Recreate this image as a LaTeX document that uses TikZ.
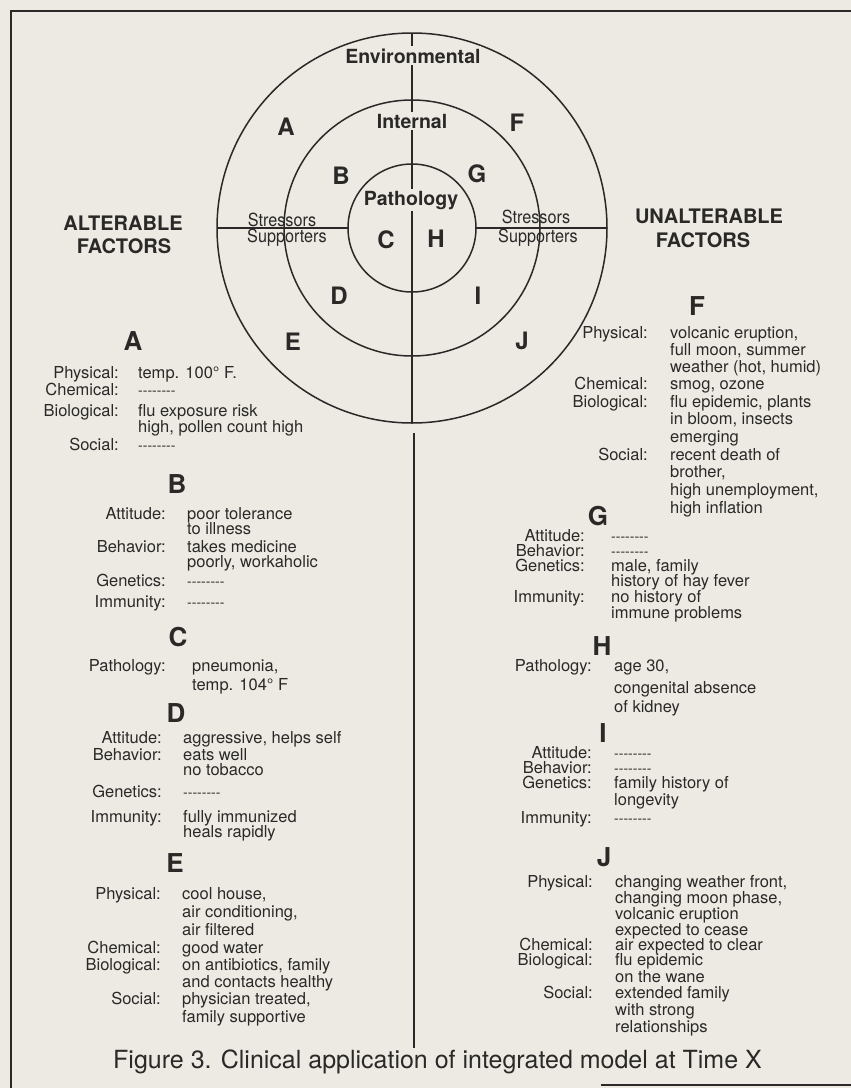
\documentclass[tikz,border=0pt]{standalone}
\usepackage{fontspec}
\setmainfont{TeX Gyre Heros}
\definecolor{paper}{HTML}{EDEAE4}
\definecolor{ink}{HTML}{2A2927}
\newcommand\body{\fontsize{16.5}{17.5}\selectfont}
\newcommand\nodata{{\fontsize{14}{14}\selectfont\hbox{-}\hbox{-}\hbox{-}\hbox{-}\hbox{-}\hbox{-}\hbox{-}\hbox{-}}}
\tikzset{
  factlab/.style={anchor=base east,inner sep=0pt,font=\body,text=ink},
  factval/.style={anchor=base west,inner sep=0pt,font=\body,text=ink},
  ringletter/.style={inner sep=0pt,font=\fontsize{24}{24}\selectfont\bfseries,text=ink},
  blockletter/.style={inner sep=0pt,font=\fontsize{26}{26}\selectfont\bfseries,text=ink},
  ringname/.style={anchor=base,inner xsep=0pt,inner ysep=2pt,fill=paper,font=\fontsize{19.5}{19.5}\selectfont\bfseries,text=ink},
  sidename/.style={anchor=base,inner sep=0pt,font=\fontsize{18}{18}\selectfont,xscale=0.9,transform shape,text=ink},
  groupname/.style={anchor=base,inner sep=0pt,font=\fontsize{20}{20}\selectfont\bfseries,text=ink},
}
% one row per line: y / label / value
\newcommand\factlist[4]{%
  \foreach \yy/\ll/\vv [count=\n] in {#4}{
    \node[factlab] (#1l\n) at (#2,\yy) {\ll};
    \node[factval] (#1v\n) at (#3,\yy) {\vv};
  }}
\begin{document}
\begin{tikzpicture}[x=1pt,y=-1pt]
  \fill[paper] (0,0) rectangle (851,1088);
  \useasboundingbox (0,0) rectangle (851,1088);
  % frame
  \draw[ink,line width=2.4pt] (11,1088) -- (11,11) -- (851,11);
  \draw[ink,line width=2pt] (601,1085) -- (851,1085);
  % circles
  \coordinate (O) at (412,228);
  \draw[ink,line width=1.5pt] (O) circle (195pt) (O) circle (128pt) (O) circle (64pt);
  \draw[ink,line width=2pt] ([xshift=-195pt]O) -- ([xshift=-64pt]O)
                            ([xshift=64pt]O) -- ([xshift=195pt]O);
  \draw[ink,line width=1.5pt] ([yshift=195pt]O) -- ([yshift=-195pt]O);
  \coordinate (spineTop) at (414,433);
  \coordinate (spineEnd) at (414,1048);
  \draw[ink,line width=1.5pt] (spineTop) -- (spineEnd);

  \node[ringname] (env) at (413,63) {Environmental};
  \node[ringname] (int) at (412,128) {Internal};
  \node[ringname] (path) at (411,205) {Pathology};
  \node[sidename] (strL) at (282,226) {Stressors};
  \node[sidename] (supL) at (287,242) {Supporters};
  \node[sidename] (strR) at (536,223) {Stressors};
  \node[sidename] (supR) at (538,242) {Supporters};

  \node[ringletter] (rA) at (286,127) {A};
  \node[ringletter] (rF) at (517,123) {F};
  \node[ringletter] (rB) at (341,176) {B};
  \node[ringletter] (rG) at (477,174) {G};
  \node[ringletter] (rC) at (386,240) {C};
  \node[ringletter] (rH) at (436,239) {H};
  \node[ringletter] (rD) at (339,296) {D};
  \node[ringletter] (rI) at (478,296) {I};
  \node[ringletter] (rE) at (293,342) {E};
  \node[ringletter] (rJ) at (522,341) {J};

  \node[groupname] (alt1) at (123,230) {ALTERABLE};
  \node[groupname] (alt2) at (124,253) {FACTORS};
  \node[groupname] (unalt1) at (709,223) {UNALTERABLE};
  \node[groupname] (unalt2) at (703,247) {FACTORS};

  % alterable side
  \node[blockletter] (hA) at (133,341) {A};
  \factlist{A}{119}{138}{378/Physical:/{temp. 100° F.}, 395/Chemical:/\nodata,
    416/Biological:/{flu exposure risk}, 432//{high, pollen count high}, 450/Social:/\nodata}
  \node[blockletter] (hB) at (177,484) {B};
  \factlist{B}{166}{187}{519/Attitude:/{poor tolerance}, 534//{to illness},
    552/Behavior:/{takes medicine}, 567//{poorly, workaholic},
    586/Genetics:/\nodata, 607/Immunity:/\nodata}
  \node[blockletter] (hC) at (178,637) {C};
  \factlist{C}{166}{192}{671/Pathology:/{pneumonia,}, 690//{temp. 104° F}}
  \node[blockletter] (hD) at (176,713) {D};
  \factlist{D}{162}{183}{743/Attitude:/{aggressive, helps self}, 760/Behavior:/{eats well},
    775//{no tobacco}, 797/Genetics:/\nodata, 822/Immunity:/{fully immunized},
    837//{heals rapidly}}
  \node[blockletter] (hE) at (175,863) {E};
  \factlist{E}{161}{182}{899/Physical:/{cool house,}, 917//{air conditioning,},
    935//{air filtered}, 953/Chemical:/{good water}, 970/Biological:/{on antibiotics, family},
    987//{and contacts healthy}, 1004/Social:/{physician treated,}, 1022//{family supportive}}

  % unalterable side
  \node[blockletter] (hF) at (697,306) {F};
  \factlist{F}{648}{670}{338/Physical:/{volcanic eruption,}, 355//{full moon, summer},
    372//{weather (hot, humid)}, 389/Chemical:/{smog, ozone},
    407/Biological:/{flu epidemic, plants}, 424//{in bloom, insects}, 442//{emerging},
    460/Social:/{recent death of}, 477//{brother,}, 495//{high unemployment,},
    513//{high inflation}}
  \node[blockletter] (hG) at (598,516) {G};
  \factlist{G}{585}{611}{541/Attitude:/\nodata, 556/Behavior:/\nodata,
    571/Genetics:/{male, family}, 586//{history of hay fever},
    602/Immunity:/{no history of}, 618//{immune problems}}
  \node[blockletter] (hH) at (602,646) {H};
  \factlist{H}{592}{614}{671/Pathology:/{age 30,}, 693//{congenital absence}, 712//{of kidney}}
  \node[blockletter] (hI) at (603,733) {I};
  \factlist{I}{592}{614}{758/Attitude:/\nodata, 773/Behavior:/\nodata,
    788/Genetics:/{family history of}, 805//{longevity}, 823/Immunity:/\nodata}
  \node[blockletter] (hJ) at (604,857) {J};
  \factlist{J}{593}{615}{887/Physical:/{changing weather front,}, 903//{changing moon phase,},
    919//{volcanic eruption}, 935//{expected to cease}, 950/Chemical:/{air expected to clear},
    965/Biological:/{flu epidemic}, 982//{on the wane}, 998/Social:/{extended family},
    1015//{with strong}, 1032//{relationships}}

  \node[anchor=base west,inner sep=0pt,font=\fontsize{25}{25}\selectfont,text=ink] (caption)
    at (113,1068) {Figure 3. Clinical application of integrated model at Time X};
\end{tikzpicture}
\end{document}
